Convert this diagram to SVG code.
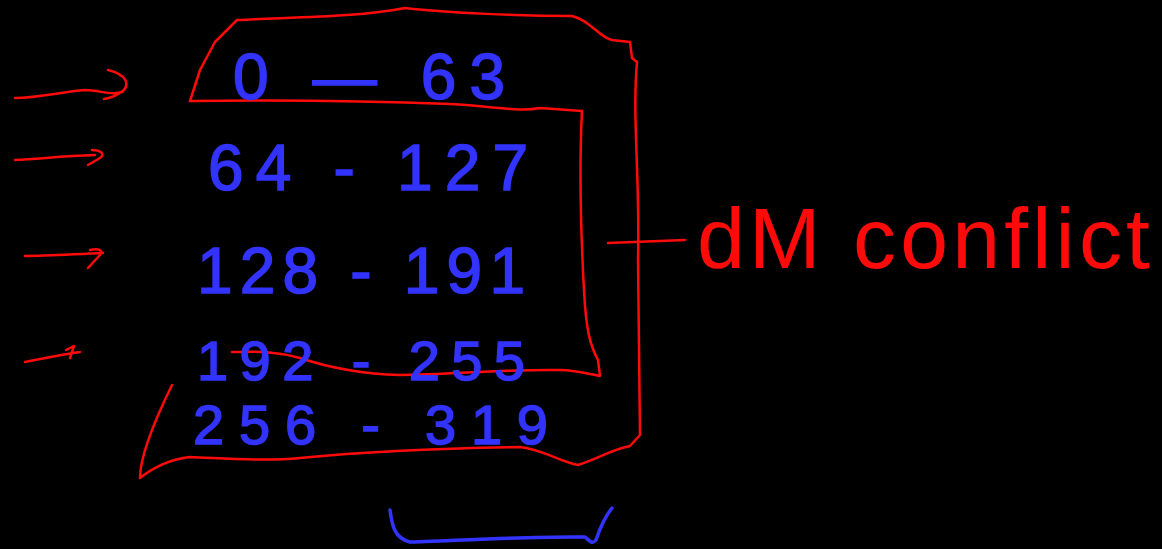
<svg xmlns="http://www.w3.org/2000/svg" width="1162" height="549" viewBox="0 0 1162 549">
<style>
.red{fill:none;stroke:#ff0a0a;stroke-width:2.5;stroke-linecap:round;stroke-linejoin:round}
.blue{fill:none;stroke:#3333ff;stroke-width:3.5;stroke-linecap:round;stroke-linejoin:round}
.num{font-family:"Liberation Sans",Arial,sans-serif;font-size:64px;fill:#3333ff;stroke:#3333ff;stroke-width:1.5}
.sm{font-size:56px}
.lbl{font-family:"Liberation Sans",Arial,sans-serif;font-size:86px;fill:#ff0a0a}
</style>
<rect x="0" y="0" width="1162" height="549" fill="#000"/>
<g id="outline">
<path class="red" d="M190,101 L200,70 L215,42 L237,20 C300,17 360,17 405,8 C450,13 520,16 572,16 C590,20 600,38 612,40 L630,42 L632,58 L637,62 C632,120 640,170 638,260 L640,435 L630,446 C610,450 600,458 578,465 C560,462 545,450 520,447 C450,448 380,450 300,458 C260,462 220,458 190,457 C165,460 150,470 140,478 C140,460 150,430 172,385"/>
<path class="red" d="M190,101 C260,100 350,100 450,104 C500,107 520,112 540,108 L582,111 C580,150 579,200 584,290 C586,330 590,345 598,360 L600,376 C590,374 575,370 560,370 C500,369 450,375 400,375 C360,374 330,368 300,358 C270,350 250,352 232,352"/>
<path class="red" d="M608,243 L685,240"/>
</g>
<g id="arrows">
<path class="red" d="M15,98 C40,98 60,92 85,90 C100,90 110,96 122,92 C130,85 128,75 108,70 M124,90 C118,95 110,98 104,99"/>
<path class="red" d="M15,160 C40,159 60,156 95,155 M92,150 C100,150 106,154 100,158 L88,165"/>
<path class="red" d="M25,256 C50,256 75,254 103,253 M90,250 C98,248 104,250 100,255 L88,268"/>
<path class="red" d="M25,362 C45,358 60,355 80,352 M66,350 L74,346 L70,358"/>
</g>
<g id="ranges">
<text class="num" x="233" y="99" textLength="272" lengthAdjust="spacing">0 — 63</text>
<text class="num" x="208" y="190" textLength="320" lengthAdjust="spacing">64 - 127</text>
<text class="num" x="197" y="293" textLength="328" lengthAdjust="spacing">128 - 191</text>
<text class="num sm" x="197" y="380" textLength="328" lengthAdjust="spacing">192 - 255</text>
<text class="num sm" x="193" y="444" textLength="355" lengthAdjust="spacing">256 - 319</text>
</g>
<g id="brace">
<path class="blue" d="M390,510 C392,525 394,538 410,542 C470,540 540,536 585,537 C590,541 592,545 596,540 C600,528 604,518 612,508"/>
</g>
<g id="label">
<text class="lbl" x="697" y="268" textLength="453" lengthAdjust="spacing">dM conflict</text>
</g>
</svg>
